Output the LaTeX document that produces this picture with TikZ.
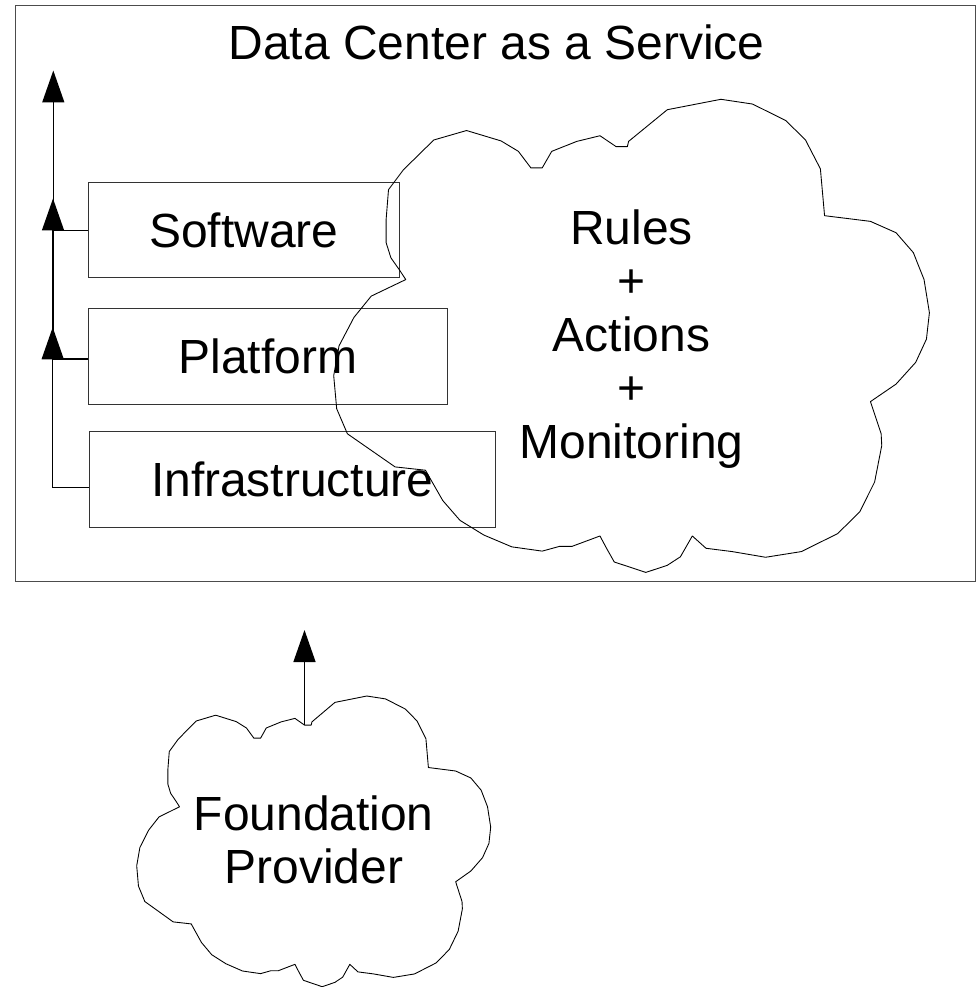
\documentclass[tikz,border=0pt]{standalone}
\usepackage{fontspec}
\setmainfont{Liberation Sans}
\usetikzlibrary{arrows.meta}

\tikzset{
  cloudpic/.pic={
    \draw[cloudline] (65.0,0) -- (70.3,1.0) -- (75.9,4.5) -- (79.2,8.6) -- (81.7,14.7) -- (82.4,24.6)
      -- (90.1,25.8) -- (94.4,28.2) -- (97.3,32.4) -- (99.1,38.1) -- (100,45.1) -- (99.5,50.7)
      -- (97.7,55.6) -- (94.4,60.2) -- (90.1,63.9) -- (91.9,70.7) -- (92.0,73.2) -- (90.8,80.9)
      -- (88.3,87.2) -- (84.6,91.8) -- (78.5,95.6) -- (72.5,96.8) -- (66.9,95.6) -- (62.5,94.9)
      -- (60.2,92.3) -- (58.2,96.7) -- (56.0,98.5) -- (52.4,100) -- (47.1,97.8) -- (45.8,94.9)
      -- (44.7,92.3) -- (40.0,94.5) -- (37.9,94.5) -- (35.0,95.5) -- (29.9,94.6) -- (25.2,92.1)
      -- (21.2,89.0) -- (18.3,84.8) -- (15.4,78.4) -- (10.3,77.7) -- (6.3,74.2) -- (2.3,70.7)
      -- (0.5,65.4) -- (0,58.4) -- (0.9,52.1) -- (3.4,46.1) -- (6.3,41.6) -- (12.1,38.1)
      -- (11.0,36.0) -- (9.6,33.5) -- (8.8,30.3) -- (8.8,25.4) -- (9.2,19.1) -- (11.7,14.9)
      -- (16.8,8.6) -- (22.3,6.6) -- (28.1,8.8) -- (31.0,11.0) -- (33.1,14.5) -- (35.0,14.5)
      -- (36.6,11.0) -- (40.8,8.9) -- (44.7,7.7) -- (47.4,10.0) -- (49.3,10.0) -- (49.5,8.9)
      -- (56.0,2.2) -- cycle;
    \coordinate (-notch) at (47.4,10.0);
  }
}

\begin{document}
\begin{tikzpicture}[x=0.02cm, y=-0.02cm,
  every node/.style={font=\fontsize{27.3}{30.4}\selectfont},
  frame/.style={draw=black!70, line width=0.8pt, inner sep=0pt},
  layer/.style={draw=black!80, line width=0.6pt, inner sep=0pt, minimum height=1.91cm},
  lift/.style={-{Triangle[width=0.44cm,length=0.64cm]}, line width=0.8pt},
  cloudline/.style={draw=black, line width=0.5pt, line join=round}]
	\useasboundingbox (0,0) rectangle (976,987);

	% data center box
	\node[frame, minimum width=19.21cm, minimum height=11.52cm, anchor=north west] (dcaas) at (15,5) {};
	\node[anchor=base] (title) at (496.5,59.5) {Data Center as a Service};

	% service layers
	\node[layer, minimum width=6.22cm] (sw) at (243.8,230.2) {Software};
	\node[layer, minimum width=7.18cm] (pf) at (267.8,356.5) {Platform};
	\node[layer, minimum width=8.13cm] (in) at (292.3,479.4) {Infrastructure};

	\coordinate (sw-tip) at (53.3,70.5);
	\coordinate (pf-tip) at (53.0,198.5);
	\coordinate (in-tip) at (52.7,327.3);
	\draw[lift] (sw.west) -| (sw-tip);
	\draw[lift] ([yshift=-0.05cm]pf.west) -| (pf-tip);
	\draw[lift] ([yshift=-0.166cm]in.west) -| (in-tip);

	% rules cloud
	\pic[xscale=5.957, yscale=4.731] (rac) at (333.7,99.3) {cloudpic};
	\node[align=center] (rules) at (631.5,339) {Rules\\+\\Actions\\+\\Monitoring};

	% foundation provider
	\pic[xscale=3.54, yscale=2.907] (fpc) at (136.7,696) {cloudpic};
	\node[align=center] (fp) at (313.7,840) {Foundation\\Provider};
	\coordinate (fp-tip) at (303.3,630);
	\draw[lift] (fpc-notch) -- (fpc-notch |- fp-tip);
\end{tikzpicture}
\end{document}
